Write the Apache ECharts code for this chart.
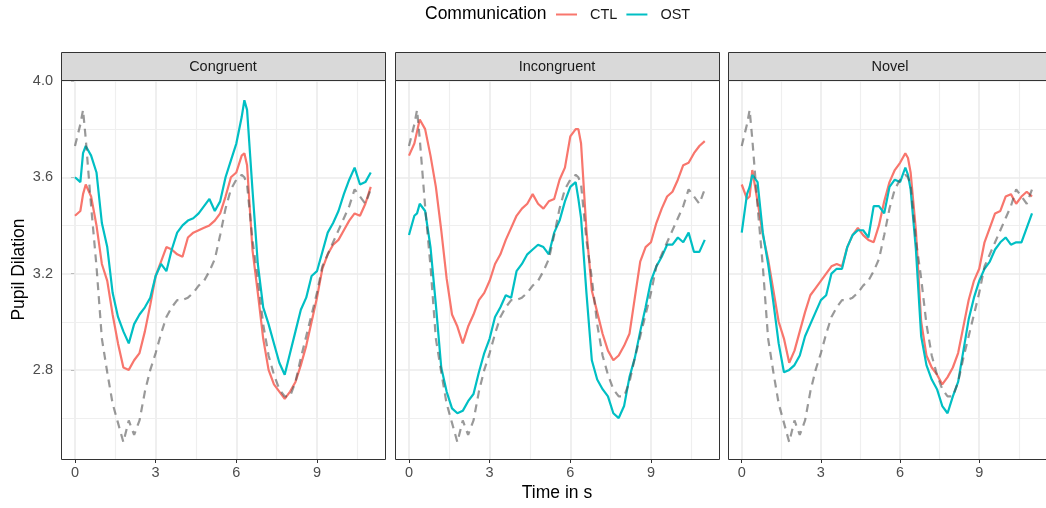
<!DOCTYPE html>
<html>
<head>
<meta charset="utf-8">
<script src="https://cdn.jsdelivr.net/npm/echarts@6/dist/echarts.min.js"></script>
<style>
  html, body { margin: 0; padding: 0; background: #fff; }
  #chart { width: 1046px; height: 508px; }
</style>
</head>
<body>
<div id="chart"></div>
<script>
// time in s, shared by every line
const time = [0, 0.2, 0.3, 0.4, 0.6, 0.8, 1.0, 1.2, 1.4, 1.6, 1.8, 2.0, 2.2, 2.4, 2.6, 2.8, 3.0, 3.2, 3.4, 3.6,
  3.8, 4.0, 4.2, 4.4, 4.6, 4.8, 5.0, 5.2, 5.4, 5.6, 5.8, 6.0, 6.2, 6.3, 6.4, 6.6, 6.8, 7.0, 7.2, 7.4,
  7.6, 7.8, 8.0, 8.2, 8.4, 8.6, 8.8, 9.0, 9.2, 9.4, 9.6, 9.8, 10.0, 10.2, 10.4, 10.6, 10.8, 11.0];

// grey dashed reference, same in every panel
const reference = [3.73, 3.82, 3.88, 3.76, 3.48, 3.23, 2.93, 2.79, 2.66, 2.58, 2.50, 2.59, 2.53, 2.59, 2.71, 2.80, 2.87, 2.95, 3.02, 3.06,
  3.09, 3.09, 3.10, 3.12, 3.15, 3.17, 3.21, 3.26, 3.36, 3.47, 3.55, 3.59, 3.61, 3.60, 3.57, 3.34, 3.18, 2.99, 2.86, 2.78,
  2.72, 2.69, 2.69, 2.75, 2.85, 2.94, 3.03, 3.12, 3.23, 3.28, 3.33, 3.38, 3.43, 3.48, 3.55, 3.52, 3.49, 3.55];

const congruentCTL = [3.44, 3.46, 3.53, 3.57, 3.52, 3.40, 3.24, 3.17, 3.03, 2.91, 2.81, 2.80, 2.84, 2.87, 2.96, 3.07, 3.19, 3.25, 3.31, 3.30,
  3.28, 3.27, 3.35, 3.37, 3.38, 3.39, 3.40, 3.42, 3.45, 3.52, 3.60, 3.62, 3.69, 3.70, 3.65, 3.30, 3.12, 2.93, 2.80, 2.74,
  2.71, 2.68, 2.71, 2.75, 2.82, 2.90, 3.00, 3.10, 3.22, 3.28, 3.32, 3.34, 3.38, 3.42, 3.45, 3.44, 3.49, 3.56];
const congruentOST = [3.60, 3.58, 3.70, 3.73, 3.69, 3.62, 3.41, 3.31, 3.12, 3.02, 2.96, 2.91, 2.99, 3.03, 3.06, 3.10, 3.19, 3.24, 3.21, 3.30,
  3.37, 3.40, 3.42, 3.43, 3.45, 3.48, 3.51, 3.46, 3.50, 3.60, 3.67, 3.74, 3.85, 3.92, 3.88, 3.55, 3.24, 3.06, 2.99, 2.91,
  2.83, 2.78, 2.87, 2.96, 3.05, 3.10, 3.19, 3.21, 3.29, 3.37, 3.41, 3.46, 3.53, 3.59, 3.64, 3.57, 3.58, 3.62];

const incongruentCTL = [3.69, 3.74, 3.79, 3.84, 3.80, 3.69, 3.56, 3.38, 3.18, 3.03, 2.98, 2.91, 2.98, 3.03, 3.09, 3.12, 3.17, 3.24, 3.28, 3.34,
  3.39, 3.44, 3.47, 3.49, 3.53, 3.49, 3.47, 3.50, 3.51, 3.59, 3.64, 3.77, 3.80, 3.80, 3.74, 3.38, 3.13, 3.04, 2.95, 2.88,
  2.84, 2.86, 2.90, 2.95, 3.10, 3.25, 3.31, 3.33, 3.41, 3.47, 3.52, 3.54, 3.59, 3.65, 3.66, 3.70, 3.73, 3.75];
const incongruentOST = [3.36, 3.44, 3.45, 3.49, 3.46, 3.31, 3.07, 2.81, 2.71, 2.64, 2.62, 2.63, 2.67, 2.70, 2.79, 2.87, 2.93, 3.02, 3.06, 3.11,
  3.10, 3.21, 3.24, 3.28, 3.30, 3.32, 3.31, 3.28, 3.37, 3.42, 3.50, 3.56, 3.58, 3.51, 3.43, 3.12, 2.84, 2.76, 2.72, 2.69,
  2.62, 2.60, 2.65, 2.77, 2.85, 2.96, 3.06, 3.17, 3.23, 3.27, 3.32, 3.32, 3.35, 3.33, 3.37, 3.29, 3.29, 3.34];

const novelCTL = [3.57, 3.51, 3.52, 3.63, 3.50, 3.36, 3.26, 3.13, 3.00, 2.93, 2.83, 2.88, 2.96, 3.04, 3.11, 3.14, 3.17, 3.20, 3.23, 3.24,
  3.23, 3.31, 3.36, 3.39, 3.36, 3.34, 3.33, 3.40, 3.50, 3.58, 3.63, 3.66, 3.70, 3.68, 3.62, 3.38, 3.00, 2.86, 2.81, 2.78,
  2.74, 2.77, 2.81, 2.87, 2.98, 3.09, 3.17, 3.22, 3.33, 3.39, 3.45, 3.46, 3.52, 3.53, 3.49, 3.52, 3.54, 3.52];
const novelOST = [3.37, 3.53, 3.56, 3.61, 3.58, 3.37, 3.24, 3.08, 2.91, 2.79, 2.80, 2.82, 2.86, 2.94, 2.99, 3.04, 3.09, 3.11, 3.20, 3.22,
  3.22, 3.31, 3.36, 3.38, 3.38, 3.35, 3.48, 3.48, 3.45, 3.56, 3.59, 3.58, 3.64, 3.61, 3.55, 3.30, 2.94, 2.82, 2.76, 2.72,
  2.65, 2.62, 2.69, 2.75, 2.88, 3.01, 3.10, 3.17, 3.22, 3.25, 3.30, 3.33, 3.35, 3.32, 3.33, 3.33, 3.39, 3.45];

const panels = ['Congruent', 'Incongruent', 'Novel'];
const ctlValues = [congruentCTL, incongruentCTL, novelCTL];
const ostValues = [congruentOST, incongruentOST, novelOST];

const xMajor = [0, 3, 6, 9];
const xMinor = [1.5, 4.5, 7.5, 10.5];
const yMajor = [2.8, 3.2, 3.6, 4.0];
const yMinor = [2.6, 3.0, 3.4, 3.8];

const font = '"Liberation Sans", Arial, sans-serif';
const panelLeft = [61, 395, 728];
const panelWidth = 324;
const plotTop = 80;
const plotHeight = 379;

const pairs = (vals) => time.map((t, i) => [t, vals[i]]);

const gridLines = [].concat(
  xMajor.map(v => ({ xAxis: v, lineStyle: { color: '#EBEBEB', width: 1.6, type: 'solid' } })),
  xMinor.map(v => ({ xAxis: v, lineStyle: { color: '#EFEFEF', width: 1.2, type: 'solid' } })),
  yMajor.map(v => ({ yAxis: v, lineStyle: { color: '#EBEBEB', width: 1.6, type: 'solid' } })),
  yMinor.map(v => ({ yAxis: v, lineStyle: { color: '#EFEFEF', width: 1.2, type: 'solid' } }))
);

const chart = echarts.init(document.getElementById('chart'), null, { renderer: 'canvas' });

const grid = [], xAxis = [], yAxis = [], series = [], graphic = [];

panels.forEach((name, i) => {
  const left = panelLeft[i];
  grid.push({ left: left, top: plotTop, width: panelWidth, height: plotHeight, show: false });
  xAxis.push({
    gridIndex: i, type: 'value', min: -0.52, max: 11.53,
    axisLine: { show: false },
    splitLine: { show: false },
    axisTick: { show: true, length: 4, customValues: xMajor, lineStyle: { color: '#333', width: 1 } },
    axisLabel: { customValues: xMajor, color: '#4D4D4D', fontSize: 14.5, fontFamily: font, margin: 6 }
  });
  yAxis.push({
    gridIndex: i, type: 'value', min: 2.43, max: 4.004,
    axisLine: { show: false },
    splitLine: { show: false },
    axisTick: { show: i === 0, length: 4, customValues: yMajor, lineStyle: { color: '#333', width: 1 } },
    axisLabel: {
      show: i === 0, customValues: yMajor, color: '#4D4D4D', fontSize: 14.5, fontFamily: font, margin: 8,
      formatter: v => v.toFixed(1)
    }
  });
  series.push({
    name: 'CTL', type: 'line', xAxisIndex: i, yAxisIndex: i, data: pairs(ctlValues[i]),
    symbol: 'none', showSymbol: false, z: 2,
    itemStyle: { color: '#F8766D' },
    lineStyle: { color: '#F8766D', width: 2.2 }
  });
  series.push({
    name: 'OST', type: 'line', xAxisIndex: i, yAxisIndex: i, data: pairs(ostValues[i]),
    symbol: 'none', showSymbol: false, z: 2,
    itemStyle: { color: '#00BFC4' },
    lineStyle: { color: '#00BFC4', width: 2.2 }
  });
  series.push({
    name: 'Reference', type: 'line', xAxisIndex: i, yAxisIndex: i, data: pairs(reference),
    symbol: 'none', showSymbol: false, z: 3,
    lineStyle: { color: 'rgba(80,80,80,0.58)', width: 2.2, type: [8, 6] },
    markLine: {
      silent: true, symbol: ['none', 'none'], label: { show: false }, z: 1,
      animation: false, emphasis: { disabled: true }, data: gridLines
    }
  });

  // strip + panel border
  graphic.push({
    type: 'rect', z: 100,
    shape: { x: left + 0.5, y: 52.5, width: panelWidth, height: 28 },
    style: { fill: '#D9D9D9', stroke: '#333', lineWidth: 1 }
  });
  graphic.push({
    type: 'text', z: 101, x: left + panelWidth / 2, y: 66.5,
    style: { text: name, fill: '#1A1A1A', font: '14.5px ' + font, textAlign: 'center', textVerticalAlign: 'middle' }
  });
  graphic.push({
    type: 'rect', z: 100,
    shape: { x: left + 0.5, y: 80.5, width: panelWidth, height: 379 },
    style: { fill: 'none', stroke: '#333', lineWidth: 1 }
  });
});

graphic.push({
  type: 'text', x: 425, y: 14.5, z: 100,
  style: { text: 'Communication', fill: '#000', font: '17.5px ' + font, textAlign: 'left', textVerticalAlign: 'middle' }
});
graphic.push({
  type: 'text', x: 557, y: 493, z: 100,
  style: { text: 'Time in s', fill: '#000', font: '17.5px ' + font, textAlign: 'center', textVerticalAlign: 'middle' }
});
graphic.push({
  type: 'text', x: 19, y: 269.5, z: 100, rotation: Math.PI / 2,
  style: { text: 'Pupil Dilation', fill: '#000', font: '17.5px ' + font, textAlign: 'center', textVerticalAlign: 'middle' }
});

chart.setOption({
  animation: false,
  backgroundColor: '#fff',
  legend: {
    data: ['CTL', 'OST'], left: 551, top: 2, icon: 'rect', itemWidth: 21, itemHeight: 2, itemGap: 9,
    selectedMode: false,
    textStyle: { fontSize: 14.5, color: '#1A1A1A', fontFamily: font, padding: [0, 0, 0, 8] }
  },
  grid: grid,
  xAxis: xAxis,
  yAxis: yAxis,
  series: series,
  graphic: graphic
});
</script>
</body>
</html>
